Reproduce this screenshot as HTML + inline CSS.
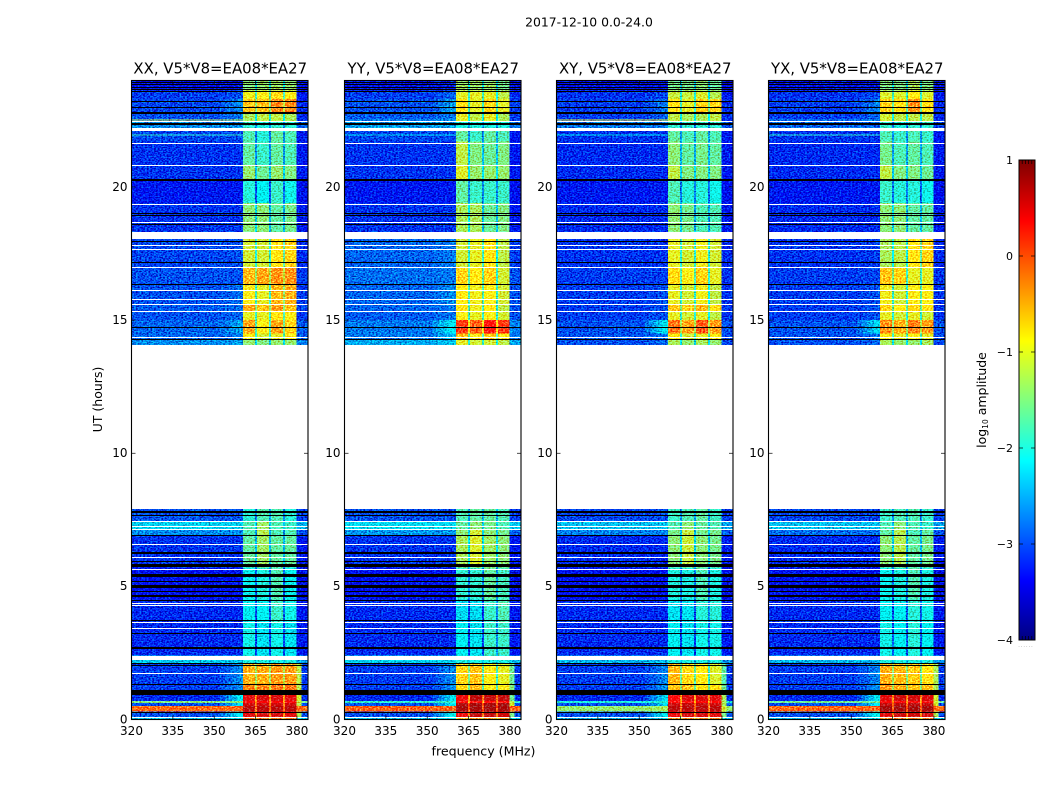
<!DOCTYPE html>
<html lang="en">
<head>
<meta charset="utf-8">
<title>2017-12-10 0.0-24.0</title>
<style>
html,body{margin:0;padding:0;background:#fff;}
#figure{display:block;width:1050px;height:800px;font-family:"DejaVu Sans","Liberation Sans",sans-serif;}
text{fill:#000;}
</style>
</head>
<body>
<svg id="figure" xmlns="http://www.w3.org/2000/svg" width="1050" height="800" viewBox="0 0 1050 800">
  <defs>
    <filter id="speckle" x="0" y="0" width="1" height="1" color-interpolation-filters="sRGB">
      <feTurbulence type="fractalNoise" baseFrequency="0.55 0.8" numOctaves="1" seed="7" result="n"/>
      <feColorMatrix in="n" type="matrix" values="0 0 0 0 .5  0 2.4 0 0 -.7  0 2.4 0 0 -.7  0 0 0 0 1" result="m"/>
      <feComposite in="SourceGraphic" in2="m" operator="arithmetic" k1="0" k2="1" k3=".7" k4="-.35"/>
    </filter>
  </defs>
  <rect x="0" y="0" width="1050" height="800" fill="#fff"/>
  <text x="589" y="26.5" font-size="12.4" text-anchor="middle">2017-12-10 0.0-24.0</text>
  <text x="0" y="0" font-size="12.5" text-anchor="middle" transform="translate(102 399.5) rotate(-90)">UT (hours)</text>
  <text x="483.5" y="755.5" font-size="12.6" text-anchor="middle">frequency (MHz)</text>
  <g id="panels"></g>
  <g id="colorbar"></g>
  <text x="0" y="0" font-size="12.5" text-anchor="middle" transform="translate(986 400) rotate(-90)">log<tspan font-size="7.5" dy="2">10</tspan><tspan dy="-2"> amplitude</tspan></text>
  <text x="1026" y="647" font-size="5" fill="#888" style="fill:#888" text-anchor="middle" letter-spacing="1">......</text>
</svg>
<script>
// ---- axis data ----
var panelNames = ['XX', 'YY', 'XY', 'YX'];
var titleSuffix = ', V5*V8=EA08*EA27';
var xTicks = [320, 335, 350, 365, 380];
var yTicks = [0, 5, 10, 15, 20];
var colorTicks = [-4, -3, -2, -1, 0, 1];
// UT band boundaries (hours), top to bottom
var bandTop = [24, 23.62, 23.3, 22.8, 22.45, 22.1, 21.7, 20.8, 20.3, 19.4, 18.3, 17, 16.35, 15.6, 15.35, 15, 14.5, 14.3, 14.06, 7.9, 7.45, 7.15, 6.93, 5.7, 4.5, 3.65, 2.4, 2.12, 1.3, 0.92, 0.7, 0.62, 0.5, 0.3, 0.1];
var bandBottom = [23.62, 23.3, 22.8, 22.45, 22.1, 21.7, 20.8, 20.3, 19.4, 18.3, 17, 16.35, 15.6, 15.35, 15, 14.5, 14.3, 14.06, 7.9, 7.45, 7.15, 6.93, 5.7, 4.5, 3.65, 2.4, 2.12, 1.3, 0.92, 0.7, 0.62, 0.5, 0.3, 0.1, 0];
// frequency zones (MHz): background, ramp, then four spectral windows, tail
var spwStart = [360.4, 365.5, 370.5, 375.6];
var spwEnd = [364.8, 369.8, 374.9, 379.9];
var rampStart = 352;
var tailEnd = 381.6;
var freqMin = 320;
var freqMax = 384;
var utMin = 0;
var utMax = 24;
var colorMin = -4;
var colorMax = 1;
// log10 amplitude per band: [background, ramp, spw1, spw2, spw3, spw4, tail]
var levelsXX = [
[-3.35,-3.3,-1.45,-1.4,-1.35,-1.4,-3.4],[-3.1,-3,-.95,-.9,-.75,-.9,-3.3],[-3.05,-2.7,-.6,-.6,-.3,-.3,-3.2],[-3,-2.8,-1.3,-1.2,-1.2,-1.3,-3.2],[-2.7,-2.7,-1.9,-2,-1.9,-1.9,-2.9],
[-3.05,-3.05,-1.75,-1.95,-1.65,-1.75,-3.3],[-3.15,-3.15,-1.65,-1.85,-1.65,-1.75,-3.3],[-3.15,-3.15,-1.4,-1.6,-1.4,-1.5,-3.3],[-3.3,-3.3,-1.95,-2.15,-1.85,-2.05,-3.4],
[-3.15,-3.15,-1.45,-1.45,-1.65,-1.55,-3.3],[-3.05,-3,-1.1,-1.1,-.8,-.7,-3.2],[-3,-3,-.55,-.45,-.35,-.35,-3.1],[-3,-2.85,-.9,-1,-.55,-.5,-3.1],
[-2.95,-2.85,-.45,-.6,-.4,-.6,-3.05],[-3,-2.9,-1,-1,-.8,-.9,-3.15],[-2.9,-2.6,-.45,-.9,-.45,-.7,-2.95],[-2.9,-2.8,-.9,-1.1,-1,-.9,-2.95],
[-2.7,-2.6,-1.4,-1.5,-1.4,-1.4,-2.75],null,[-3,-3,-1.95,-1.75,-1.75,-1.95,-3.1],[-2.35,-2.35,-1.75,-1.35,-1.75,-1.85,-2.5],
[-2.7,-2.7,-1.75,-1.25,-1.75,-1.75,-3],[-3.15,-3.15,-1.65,-1.35,-1.65,-1.65,-3.3],[-3.35,-3.35,-2.1,-2,-1.75,-2.1,-3.45],[-3.2,-3.2,-2.15,-2.15,-1.85,-2.05,-3.3],
[-3.2,-3.2,-2.05,-2.25,-2.05,-2.25,-3.3],[-2.4,-2.4,-2,-2,-2,-2,-2.6],[-3.1,-2.7,-.5,-.5,-.4,-.4,-1.2],[-3.1,-2.7,-.3,-.3,-.2,-.2,-1.2],
[-3.2,-2.2,.5,.55,.55,.5,-1.1],[-1.5,-1.5,.4,.4,.4,.4,-1.2],[-3,-2.3,.6,.6,.6,.6,-1.2],[-.15,-.1,.7,.7,.7,.7,-.1],
[-3,-2.2,.5,.55,.55,.5,-1.3],[-2.4,-2.2,-.2,-.2,-.2,-.2,-2.2]];
var levelsYY = [
[-3.35,-3.25,-1.35,-1.35,-1.35,-1.55,-3.4],[-3.1,-2.9,-1,-1,-1,-1.2,-3.2],[-3,-2.6,-.8,-1,-.7,-1,-3.1],[-2.95,-2.8,-1,-1.2,-1,-1.3,-3.1],[-2.6,-2.6,-2,-2,-2,-2,-2.8],
[-3.05,-3.05,-1.65,-1.85,-1.65,-1.75,-3.3],[-3.15,-3.15,-1.2,-1.5,-1.6,-1.5,-3.3],[-3.15,-3.15,-1.05,-1.4,-1.4,-1.4,-3.3],[-3.3,-3.3,-1.65,-1.85,-1.85,-1.85,-3.4],
[-3.15,-3.15,-1.3,-1.3,-1.6,-1.5,-3.3],[-2.9,-2.8,-1.1,-1,-.8,-1.2,-3.1],[-2.85,-2.8,-.7,-.85,-.7,-1.1,-3],[-2.9,-2.7,-.85,-.95,-.9,-1.1,-3],
[-2.9,-2.8,-.8,-.95,-.85,-1.2,-3],[-2.95,-2.8,-.9,-1,-.9,-1.1,-3],[-2.8,-2.2,.1,-.1,.3,.1,-2.7],[-2.8,-2.5,-.6,-.9,-.7,-.9,-2.8],
[-2.55,-2.4,-1,-1.1,-1.1,-1.2,-2.6],null,[-3,-3,-1.75,-1.65,-1.65,-1.75,-3.1],[-2.3,-2.3,-1.65,-1.45,-1.55,-1.75,-2.4],
[-2.65,-2.65,-1.45,-1.1,-1.45,-1.55,-2.9],[-3.15,-3.15,-1.3,-1.05,-1.35,-1.45,-3.3],[-3.35,-3.35,-1.9,-1.9,-1.65,-1.8,-3.45],[-3.2,-3.2,-2.3,-2.3,-1.85,-1.75,-3.3],
[-3.2,-3.2,-2.15,-2.25,-1.85,-1.85,-3.3],[-2.35,-2.35,-2,-2,-2,-2,-2.5],[-3.1,-2.7,-.7,-.6,-.9,-1,-1.6],[-3.1,-2.7,-.75,-.55,-.9,-.9,-1.5],
[-3.2,-2.2,.45,.7,.65,.65,-1.6],[-1.9,-1.9,.35,.35,.35,.35,-1.2],[-3,-2.2,.75,.8,.8,.8,-1.1],[-.1,-.1,.8,.8,.8,.8,-.1],
[-3,-2.1,.45,.65,.65,.6,-1.5],[-2.4,-2.2,-.5,-.4,-.4,-.4,-2.2]];
var levelsXY = [
[-3.35,-3.3,-1.55,-1.55,-1.45,-1.6,-3.4],[-3.15,-3.05,-1.15,-1.15,-1.05,-1.25,-3.3],[-3.1,-2.8,-.8,-1,-.7,-.7,-3.2],[-3.1,-2.9,-1.2,-1.3,-1.3,-1.2,-3.2],[-2.8,-2.8,-1.9,-1.9,-1.9,-1.9,-3],
[-3.15,-3.15,-1.65,-1.75,-1.65,-1.75,-3.3],[-3.2,-3.2,-1.45,-1.65,-1.55,-1.65,-3.3],[-3.2,-3.2,-1.2,-1.5,-1.5,-1.5,-3.3],[-3.3,-3.3,-1.75,-1.95,-1.95,-2.05,-3.4],
[-3.2,-3.2,-1.45,-1.55,-1.75,-1.75,-3.3],[-3.15,-3.15,-1,-1.1,-.95,-1.1,-3.2],[-3.1,-3.1,-.75,-.9,-.7,-1,-3.15],[-3.1,-3,-1,-1.1,-.95,-1.2,-3.15],
[-3.1,-3,-.6,-.7,-.55,-.75,-3.15],[-3.1,-3,-1,-1.1,-1,-1.2,-3.15],[-3,-2.2,-.2,-.45,-.05,-.4,-3],[-3,-2.85,-.9,-1.1,-1,-.9,-3.05],
[-3,-2.9,-1.3,-1.4,-1.3,-1.4,-3.05],null,[-3.05,-3.05,-1.85,-1.75,-1.65,-1.85,-3.1],[-2.45,-2.45,-1.75,-1.45,-1.65,-1.75,-2.6],
[-2.75,-2.75,-1.55,-1.15,-1.55,-1.55,-2.95],[-3.2,-3.2,-1.45,-1.15,-1.45,-1.55,-3.3],[-3.35,-3.35,-2,-2,-1.75,-2,-3.45],[-3.2,-3.2,-2.25,-2.25,-1.95,-1.95,-3.3],
[-3.2,-3.2,-2.15,-2.25,-2.05,-2.05,-3.3],[-2.5,-2.5,-2,-2,-2,-2,-2.7],[-3.1,-2.75,-.55,-.75,-.85,-1.05,-1.7],[-3.1,-2.7,-.6,-.6,-.8,-.8,-1.6],
[-3.2,-2.3,.4,.55,.55,.5,-1.3],[-2,-2,.35,.35,.35,.35,-1.3],[-3,-2.3,.6,.65,.65,.6,-1.3],[-1.4,-1.3,.7,.7,.7,.7,-1.1],
[-3,-2.2,.45,.55,.55,.5,-1.5],[-2.5,-2.3,-.4,-.3,-.3,-.3,-2.2]];
var levelsYX = [
[-3.35,-3.3,-1.5,-1.5,-1.3,-1.5,-3.4],[-3.15,-3.05,-1.05,-1.05,-.85,-1.05,-3.3],[-3.1,-2.75,-.7,-.8,-.35,-.8,-3.2],[-3.1,-2.9,-1.1,-1.2,-1.2,-1.2,-3.2],[-2.9,-2.9,-1.9,-2,-1.9,-1.9,-3.05],
[-3.15,-3.15,-1.75,-1.85,-1.75,-1.85,-3.3],[-3.2,-3.2,-1.55,-1.75,-1.65,-1.75,-3.3],[-3.2,-3.2,-1.2,-1.5,-1.5,-1.6,-3.3],[-3.3,-3.3,-1.85,-1.95,-1.95,-2.05,-3.4],
[-3.2,-3.2,-1.45,-1.45,-1.65,-1.65,-3.3],[-3.15,-3.1,-1.3,-1.2,-.8,-.7,-3.2],[-3.1,-3.05,-.6,-.7,-1,-1,-3.15],[-3.1,-3,-.95,-1.1,-.9,-.9,-3.15],
[-3.1,-3,-.7,-.85,-.7,-.8,-3.15],[-3.1,-3,-1,-1.1,-1,-1.1,-3.15],[-3,-2.3,-.35,-.5,-.25,-.4,-3],[-3,-2.85,-.9,-1,-.9,-1,-3.05],
[-3,-2.9,-1.3,-1.4,-1.4,-1.3,-3.05],null,[-3.05,-3.05,-1.85,-1.75,-1.75,-1.85,-3.1],[-2.45,-2.45,-1.75,-1.45,-1.75,-1.85,-2.6],
[-2.85,-2.85,-1.65,-1.25,-1.75,-1.65,-3],[-3.2,-3.2,-1.45,-1.25,-1.65,-1.55,-3.3],[-3.35,-3.35,-2.1,-2,-1.75,-2,-3.45],[-3.2,-3.2,-2.15,-2.15,-1.95,-2.05,-3.3],
[-3.2,-3.2,-2.05,-2.15,-1.95,-2.15,-3.3],[-2.5,-2.5,-2,-2,-2,-2,-2.7],[-3.1,-2.75,-.5,-.55,-.65,-.8,-1.3],[-3.1,-2.7,-.4,-.5,-.6,-.6,-1.3],
[-3.2,-2.2,.5,.6,.6,.55,-1.1],[-1.6,-1.6,.4,.4,.4,.4,-1.1],[-3,-2.2,.65,.7,.7,.65,-1.1],[-.15,-.1,.8,.8,.8,.8,-.1],
[-3,-2.1,.5,.6,.6,.55,-1.3],[-2.4,-2.2,-.3,-.2,-.2,-.2,-2.2]];
var panelLevels = [levelsXX, levelsYY, levelsXY, levelsYX];
// single hot integrations crossing the background: UT and level per panel
var streakUt = [22.53, 21.98];
var streakLevels = [[-1.2, -1.9], [-2.6, -2.3], [-1, -2.2], [-2.6, -1.9]];
// flagged integrations (UT): single rows and wider blocks [start, end]
var whiteLines = [22.49, 21.67, 20.83, 19.38, 18.69, 17.84, 17.66, 17, 16.15, 15.78, 15.59, 15.35, 14.35, 7.27, 7.15, 6.59, 6.09, 5.67, 4.36, 4.3, 3.65, 3.42, 1.73, 0.1];
var whiteBlocks = [[22.22, 22.11], [18.3, 18.04], [14.06, 7.9], [7.47, 7.41], [2.38, 2.23]];
var blackLines = [23.94, 23.86, 23.76, 23.69, 23.24, 23.01, 22.79, 19.03, 18.93, 18.6, 17.98, 17.2, 16.35, 14.74, 14.28, 7.68, 6.93, 5.97, 5.2, 4.49, 3.74, 3.26, 2.73, 2.67, 2.12, 2.06, 1.34, 0.29];
var blackBlocks = [[23.62, 23.55], [22.82, 22.73], [22.41, 22.31], [20.3, 20.22], [7.83, 7.74], [6.29, 6.21], [5.84, 5.73], [5.46, 5.35], [5.05, 4.94], [4.83, 4.77], [4.67, 4.6], [1.12, 0.92]];
// axes rectangles in figure pixels (layout only)
var axLeft = [131.5, 344.5, 556.5, 768.5];
var axWidth = 176.5;
var axTop = 80.5;
var axBottom = 719.5;

var NS = 'http://www.w3.org/2000/svg';
var panelsGroup = document.getElementById('panels');
function make(tag, attrs, parent) {
  var n = document.createElementNS(NS, tag);
  for (var k in attrs) { n.setAttribute(k, attrs[k]); }
  parent.appendChild(n);
  return n;
}
function clamp01(v) { return Math.max(0, Math.min(1, v)); }
function jet(v) {
  var t = clamp01((v - colorMin) / (colorMax - colorMin));
  var r = clamp01(Math.min(4 * t - 1.5, -4 * t + 4.5));
  var g = clamp01(Math.min(4 * t - 0.5, -4 * t + 3.5));
  var b = clamp01(Math.min(4 * t + 0.5, -4 * t + 2.5));
  return 'rgb(' + Math.round(r * 255) + ',' + Math.round(g * 255) + ',' + Math.round(b * 255) + ')';
}
function xScale(f, i) { return axLeft[i] + (f - freqMin) / (freqMax - freqMin) * axWidth; }
function yScale(u) { return axBottom - (u - utMin) / (utMax - utMin) * (axBottom - axTop); }

function cell(group, i, f0, f1, u0, u1, level) {
  var el = make('rect', {
    x: xScale(f0, i).toFixed(2), y: yScale(u0).toFixed(2),
    width: (xScale(f1, i) - xScale(f0, i)).toFixed(2), height: (yScale(u1) - yScale(u0)).toFixed(2),
    fill: jet(level), 'shape-rendering': 'crispEdges'
  }, group);
  
  
}

panelNames.forEach(function (name, i) {
  var g = make('g', {}, panelsGroup);
  
  

  var title = make('text', { x: axLeft[i] + axWidth / 2 + .5, y: 73.5, 'font-size': 14.9, 'text-anchor': 'middle' }, g);
  title.textContent = name + titleSuffix;
  
  

  var heat = make('g', { filter: 'url(#speckle)' }, g);
  
  

  var rows = panelLevels[i];
  rows.forEach(function (row, b) {
    if (!row) { return; }
    var u0 = bandTop[b], u1 = bandBottom[b];
    var bg = row[0], ramp = row[1], tail = row[6];
    cell(heat, i, freqMin, rampStart, u0, u1, bg);
    for (var s = 0; s < 4; s++) {
      var fa = rampStart + (spwStart[0] - rampStart) * s / 4;
      var fb = rampStart + (spwStart[0] - rampStart) * (s + 1) / 4;
      cell(heat, i, fa, fb, u0, u1, bg + (ramp - bg) * (s + 1) / 4);
    }
    for (var w = 0; w < 4; w++) {
      cell(heat, i, spwStart[w], spwEnd[w], u0, u1, row[2 + w]);
      if (w < 3) {
        var notch = Math.max(bg, Math.min(row[2 + w], row[3 + w]) - 0.85);
        cell(heat, i, spwEnd[w], spwStart[w + 1], u0, u1, notch);
      }
    }
    cell(heat, i, spwEnd[3], tailEnd, u0, u1, tail);
    cell(heat, i, tailEnd, freqMax, u0, u1, Math.min(tail, bg));
  });
  streakUt.forEach(function (u, k) {
    cell(heat, i, freqMin, spwStart[0], u, u - 0.0376, streakLevels[i][k]);
  });

  function stripe(u0, u1, color, label) {
    var y0 = Math.round(yScale(u0));
    var y1 = Math.round(yScale(u1));
    var r = make('rect', { x: axLeft[i], y: y0, width: axWidth, height: Math.max(1, y1 - y0), fill: color, 'shape-rendering': 'crispEdges' }, g);
    
    
  }
  whiteBlocks.forEach(function (r) { stripe(r[0], r[1], '#fff', 'no-data-gap'); });
  whiteLines.forEach(function (u) { stripe(u, u, '#fff', 'no-data-row'); });
  blackBlocks.forEach(function (r) { stripe(r[0], r[1], '#000', 'flagged-block'); });
  blackLines.forEach(function (u) { stripe(u, u, '#000', 'flagged-row'); });

  var frame = make('rect', { x: axLeft[i], y: axTop, width: axWidth, height: axBottom - axTop, fill: 'none', stroke: '#000', 'stroke-width': 1.1 }, g);
  
  

  xTicks.forEach(function (t) {
    var x = xScale(t, i);
    var tb = make('line', { x1: x, x2: x, y1: axBottom, y2: axBottom - 4, stroke: '#000', 'stroke-width': .7 }, g);
    
    
    var tt = make('line', { x1: x, x2: x, y1: axTop, y2: axTop + 4, stroke: '#000', 'stroke-width': .7 }, g);
    
    
    var lab = make('text', { x: x, y: 735, 'font-size': 12, 'text-anchor': 'middle' }, g);
    lab.textContent = t;
    
    
  });
  yTicks.forEach(function (t) {
    var y = yScale(t);
    var tl = make('line', { x1: axLeft[i], x2: axLeft[i] + 4, y1: y, y2: y, stroke: '#000', 'stroke-width': .7 }, g);
    
    
    var tr = make('line', { x1: axLeft[i] + axWidth, x2: axLeft[i] + axWidth - 4, y1: y, y2: y, stroke: '#000', 'stroke-width': .7 }, g);
    
    
    var lab = make('text', { x: axLeft[i] - 4, y: y + 3.8, 'font-size': 12, 'text-anchor': 'end' }, g);
    lab.textContent = t;
    
    
  });
});

// colorbar
var cb = document.getElementById('colorbar');
var cbLeft = 1019, cbRight = 1035, cbTop = 160, cbBottom = 640;
function cbScale(v) { return cbBottom - (v - colorMin) / (colorMax - colorMin) * (cbBottom - cbTop); }
for (var p = 0; p < 240; p++) {
  var v0 = colorMin + (colorMax - colorMin) * p / 240;
  var v1 = colorMin + (colorMax - colorMin) * (p + 1) / 240;
  var seg = make('rect', { x: cbLeft, y: cbScale(v1).toFixed(2), width: cbRight - cbLeft, height: (cbScale(v0) - cbScale(v1) + .3).toFixed(2), fill: jet((v0 + v1) / 2), 'shape-rendering': 'crispEdges' }, cb);
  
  
}
var cbFrame = make('rect', { x: cbLeft, y: cbTop, width: cbRight - cbLeft, height: cbBottom - cbTop, fill: 'none', stroke: '#000', 'stroke-width': 1 }, cb);


[0.2, 0.4, 0.6, 0.8].forEach(function (fr) {
  var xm = cbLeft + (cbRight - cbLeft) * fr;
  [cbTop, cbBottom].forEach(function (ym, idx) {
    var mt = make('line', { x1: xm, x2: xm, y1: ym, y2: idx ? ym - 4 : ym + 4, stroke: '#000', 'stroke-width': .7 }, cb);
    
    
  });
});
colorTicks.forEach(function (t) {
  var y = cbScale(t);
  var a = make('line', { x1: cbLeft, x2: cbLeft + 4, y1: y, y2: y, stroke: '#000', 'stroke-width': .7 }, cb);
  
  
  var c = make('line', { x1: cbRight, x2: cbRight - 4, y1: y, y2: y, stroke: '#000', 'stroke-width': .7 }, cb);
  
  
  var lab = make('text', { x: cbLeft - 6, y: y + 4, 'font-size': 11, 'text-anchor': 'end' }, cb);
  lab.textContent = (t < 0 ? '\u2212' + Math.abs(t) : String(t));
  
  
});
</script>
</body>
</html>
